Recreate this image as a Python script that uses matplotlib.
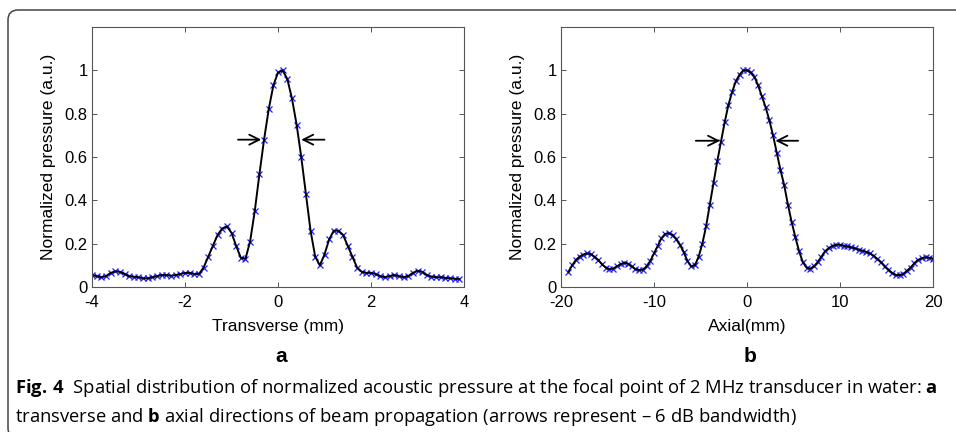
import numpy as np
import matplotlib
matplotlib.use("Agg")
import matplotlib.pyplot as plt
from matplotlib.patches import FancyBboxPatch
from matplotlib.transforms import IdentityTransform

# transverse profile, sampled every 0.1 mm from -4 to 3.9 mm
trans_x = np.round(np.arange(-4.0, 3.95, 0.1), 1)
trans_p = [0.055, 0.05, 0.045, 0.05, 0.065, 0.072, 0.07, 0.06, 0.05, 0.047,
           0.045, 0.04, 0.04, 0.045, 0.05, 0.055, 0.055, 0.052, 0.055, 0.06,
           0.065, 0.065, 0.06, 0.06, 0.09, 0.14, 0.19, 0.24, 0.27, 0.28,
           0.25, 0.19, 0.135, 0.13, 0.21, 0.35, 0.52, 0.68, 0.82, 0.93,
           0.99, 1.0, 0.96, 0.87, 0.75, 0.6, 0.43, 0.26, 0.14, 0.10,
           0.15, 0.22, 0.26, 0.26, 0.24, 0.19, 0.14, 0.09, 0.07, 0.065,
           0.065, 0.06, 0.05, 0.045, 0.05, 0.055, 0.05, 0.045, 0.05, 0.065,
           0.075, 0.07, 0.055, 0.048, 0.045, 0.045, 0.042, 0.04, 0.038, 0.037]

# axial profile, sampled every 0.4 mm from -19.2 to 20 mm
axial_x = np.round(np.arange(-19.2, 20.05, 0.4), 1)
axial_p = [0.07, 0.10, 0.125, 0.14, 0.15, 0.155, 0.152, 0.14, 0.125, 0.105,
           0.09, 0.082, 0.085, 0.095, 0.105, 0.112, 0.108, 0.095, 0.082, 0.078,
           0.08, 0.095, 0.12, 0.155, 0.19, 0.225, 0.245, 0.248, 0.24, 0.22,
           0.195, 0.16, 0.12, 0.095, 0.10, 0.14, 0.2, 0.28, 0.38, 0.48,
           0.58, 0.67, 0.76, 0.84, 0.9, 0.95, 0.98, 1.0, 1.0, 0.99,
           0.97, 0.93, 0.88, 0.83, 0.77, 0.70, 0.62, 0.54, 0.47, 0.38,
           0.30, 0.23, 0.165, 0.115, 0.09, 0.085, 0.095, 0.115, 0.14, 0.165,
           0.18, 0.19, 0.195, 0.195, 0.19, 0.187, 0.183, 0.178, 0.173, 0.168,
           0.162, 0.155, 0.145, 0.13, 0.115, 0.095, 0.08, 0.065, 0.055, 0.055,
           0.06, 0.075, 0.09, 0.11, 0.125, 0.133, 0.137, 0.135, 0.13]

trans_ticks = [-4, -2, 0, 2, 4]
axial_ticks = [-20, -10, 0, 10, 20]
y_ticks = [0, 0.2, 0.4, 0.6, 0.8, 1]
y_ticklabels = ["0", "0.2", "0.4", "0.6", "0.8", "1"]

# -6 dB arrows: (tail x, tip x, y)
trans_arrows = [(-0.86, -0.36, 0.68), (1.0, 0.5, 0.68)]
axial_arrows = [(-5.5, -2.9, 0.675), (5.5, 3.05, 0.675)]

W, H = 956, 432
fig = plt.figure(figsize=(W / 100, H / 100), dpi=100)
fig.patch.set_facecolor("white")

# rounded frame around the figure
frame = FancyBboxPatch((8, -6), 965, 432 - 10 + 6,
                       boxstyle="round,pad=0,rounding_size=10",
                       transform=IdentityTransform(), fill=False,
                       edgecolor="#444444", linewidth=1.1)
fig.patches.append(frame)

sans = ["Liberation Sans", "DejaVu Sans"]


def panel(rect, x, p, xlim, xticks, xlabel, letter, arrows):
    ax = fig.add_axes(rect)
    ax.plot(x, p, linestyle="none", marker="x", color="#2020ff",
            markersize=3.8, markeredgewidth=0.9)
    ax.plot(x, p, color="black", linewidth=1.4)
    ax.set_xlim(*xlim)
    ax.set_ylim(0, 1.2)
    ax.set_xticks(xticks)
    ax.set_xticklabels([str(t) for t in xticks], family=sans, fontsize=12)
    ax.set_yticks(y_ticks)
    ax.set_yticklabels(y_ticklabels, family=sans, fontsize=12)
    ax.tick_params(direction="in", top=True, right=True, length=3.5,
                   width=0.7, colors="#555555", labelcolor="black")
    ax.tick_params(axis="x", pad=5.5)
    ax.tick_params(axis="y", pad=3)
    for s in ax.spines.values():
        s.set_color("#555555")
        s.set_linewidth(0.8)
    ax.set_ylabel("Normalized pressure (a.u.)", family=sans, fontsize=12.5,
                  labelpad=6)
    for tail, tip, y in arrows:
        ax.annotate("", xy=(tip, y), xytext=(tail, y),
                    arrowprops=dict(arrowstyle="->", color="black", lw=1.3,
                                    mutation_scale=18, shrinkA=0, shrinkB=0))
    cx = rect[0] + rect[2] / 2
    fig.text(cx, 1 - 326 / H, xlabel, family=sans, fontsize=12.5,
             ha="center", va="center")
    fig.text(cx + 3 / W, 1 - 357 / H, letter, family=sans, fontsize=15,
             fontweight="bold", ha="center", va="center")
    return ax


panel([92 / W, 1 - 287 / H, 372 / W, 260 / H], trans_x, trans_p, (-4, 4),
      trans_ticks, "Transverse (mm)", "a", trans_arrows)
panel([561 / W, 1 - 287 / H, 372 / W, 260 / H], axial_x, axial_p, (-20, 20),
      axial_ticks, "Axial(mm)", "b", axial_arrows)

# caption with bold runs
plt.rcParams["mathtext.fontset"] = "custom"
plt.rcParams["mathtext.rm"] = "Open Sans"
plt.rcParams["mathtext.bf"] = "Open Sans:bold"
cap1 = (r"$\mathbf{Fig.\,4}$  Spatial distribution of normalized acoustic pressure"
        r" at the focal point of 2 MHz transducer in water: $\mathbf{a}$")
cap2 = (r"transverse and $\mathbf{b}$ axial directions of beam propagation"
        r" (arrows represent – 6 dB bandwidth)")
fig.text(15 / W, 1 - 393 / H, cap1, family="Open Sans", fontsize=13.2,
         va="baseline", ha="left")
fig.text(15 / W, 1 - 422 / H, cap2, family="Open Sans", fontsize=13.2,
         va="baseline", ha="left")

fig.savefig("out.png", dpi=100, facecolor="white")
